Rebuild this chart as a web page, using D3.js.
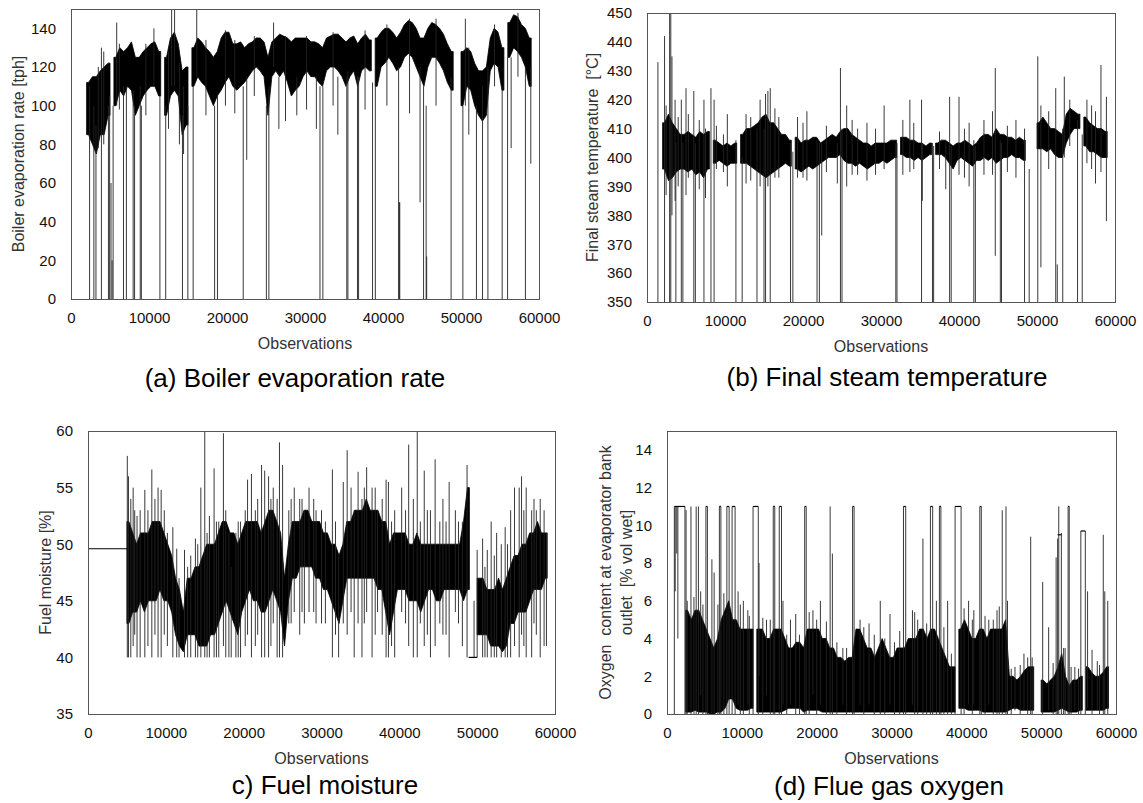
<!DOCTYPE html>
<html>
<head>
<meta charset="utf-8">
<script src="https://cdn.jsdelivr.net/npm/d3@7"></script>
<style>
  body { margin: 0; background: #fff; }
  text { font-family: "Liberation Sans", Arial, sans-serif; }
</style>
</head>
<body>
<svg id="chart" width="1143" height="803"></svg>
<script>
// every series is stored as 500-observation bins: lo/hi of the dense core (null = no data)
const BIN = 500;
const xTicks = [0, 10000, 20000, 30000, 40000, 50000, 60000];

// (a) boiler evaporation rate [tph]
const aLo = [null,null,null,null,85,80,75,85,85,95,null,100,108,105,110,108,95,100,105,108,
  110,110,105,null,95,105,108,105,85,90,null,110,115,112,110,105,100,105,108,112,
  115,110,108,110,112,115,118,120,118,115,95,115,118,115,118,112,105,108,110,115,
  118,115,115,112,110,118,120,120,118,115,110,115,118,110,118,120,118,null,110,120,
  122,125,122,118,120,125,127,125,120,115,110,120,125,125,122,118,112,108,null,null,
  100,110,108,100,95,92,95,118,122,120,108,null,125,130,128,125,120,110,null,null];
const aHi = [null,null,null,null,112,115,115,118,120,122,null,125,130,128,130,133,125,125,128,130,
  132,133,128,null,125,135,138,132,118,120,null,130,135,133,130,128,125,128,135,138,
  138,132,132,133,130,132,133,135,135,133,125,133,135,137,136,135,133,135,135,135,
  135,133,133,132,130,135,136,137,137,135,133,135,136,132,135,137,134,null,135,138,
  140,140,138,135,138,142,144,143,140,135,135,140,143,142,140,137,132,128,null,null,
  128,130,128,122,118,118,120,135,140,138,130,null,143,147,146,142,140,135,null,null];
// [observation, min, max] short excursions
const aSpikes = [[2380,0,110],[2930,0,100],[3200,0,90],[3900,0,130],[4200,80,128],[4800,0,100],
  [4950,0,105],[5130,0,60],[5270,0,20],[5400,0,100],[5860,100,143],[6730,0,110],[7100,0,110],
  [7970,0,108],[8150,0,100],[8880,0,110],[9020,0,100],[10630,110,140],[11400,0,105],[12140,0,100],
  [12900,110,150],[13280,110,150],[14290,0,95],[14430,75,110],[14980,0,100],[15660,0,110],
  [16120,115,150],[18410,0,100],[18780,0,105],[22080,0,110],[22530,72,115],[25050,0,100],
  [25370,0,110],[25970,120,143],[26650,88,115],[28950,95,115],[31460,88,115],[31920,0,110],
  [32290,0,110],[34210,85,115],[35360,0,115],[35500,0,118],[36730,0,115],[36870,0,115],
  [38660,0,112],[39020,0,110],[42000,0,120],[42090,0,50],[42150,0,50],[44750,50,120],[45200,0,110],
  [45530,0,100],[45600,0,22],[48730,0,115],[50240,0,100],[50560,100,145],[51980,0,100],
  [52760,0,110],[53450,0,120],[55280,0,110],[55970,0,125],[56430,78,125],[58260,0,120],[58950,70,120],
  [3500,78,120],[6200,98,132],[9600,95,132],[12500,88,128],[13900,80,122],[17300,95,134],
  [19800,100,139],[21000,96,134],[23500,105,136],[27500,92,136],[30200,98,136],[33600,100,138],
  [37700,98,139],[40500,100,142],[43400,96,145],[46800,100,145],[51000,85,130],[54300,110,142],[57300,115,148]];

// (b) final steam temperature [°C]
const bLo = [null,null,null,null,396,392,393,395,396,396,395,396,394,395,393,396,null,398,399,398,
  397,398,398,null,398,398,397,396,395,394,393,394,395,396,397,398,397,null,396,395,
  396,397,396,397,398,399,400,400,400,401,399,398,398,397,398,397,396,397,398,398,
  399,398,399,400,null,401,400,400,399,400,399,400,401,null,401,401,400,398,396,399,
  400,399,398,397,399,399,400,399,400,398,399,400,400,401,400,400,399,null,null,null,
  403,403,402,403,401,400,400,405,408,410,410,null,404,402,402,401,400,400,null,null];
const bHi = [null,null,null,null,412,415,412,410,408,408,409,408,407,409,408,409,null,406,405,404,
  405,404,405,null,408,410,410,411,412,414,415,412,412,410,408,408,406,null,407,405,
  406,406,407,407,405,406,407,408,407,409,410,410,408,407,406,405,405,404,405,405,
  405,405,406,406,null,407,407,406,406,405,405,404,405,null,405,406,406,405,404,405,
  405,406,405,404,405,407,408,408,407,410,408,408,407,407,406,407,406,null,null,null,
  412,414,412,410,410,409,408,415,417,416,415,null,414,412,411,410,410,409,null,null];
const bSpikes = [[1400,350,433],[2250,350,442],[2450,387,418],[2900,350,450],[3050,350,450],
  [3200,380,435],[3600,385,420],[3700,350,405],[4400,350,420],[4600,350,405],[5000,387,424],
  [5300,393,415],[6000,350,423],[6200,350,405],[7300,350,420],[7500,386,410],[8200,350,424],
  [8600,350,420],[8900,396,411],[10300,390,415],[11400,350,406],[12200,350,400],[12700,391,415],
  [14100,350,410],[14500,390,420],[15000,350,410],[15200,350,422],[15500,390,423],[15800,350,424],
  [16400,393,417],[18400,350,405],[18700,350,402],[19300,393,414],[20500,392,416],[21800,350,406],
  [22100,350,405],[22400,373,405],[24400,391,405],[24800,350,431],[25000,350,410],[25600,390,418],
  [27000,394,410],[28200,392,412],[30400,396,418],[31900,350,405],[32050,350,405],[32800,394,413],
  [33700,395,420],[35200,350,420],[35300,385,405],[36600,350,405],[36750,350,404],[38300,389,405],
  [38800,350,421],[39000,350,404],[40000,394,421],[41300,390,412],[41900,350,406],[42100,350,404],
  [44300,394,416],[44650,366,431],[45300,350,406],[45450,350,405],[47300,393,413],[48400,350,410],
  [50100,350,435],[50500,362,418],[51500,396,416],[52400,350,424],[52600,350,363],[53300,350,410],
  [53500,400,428],[55200,350,413],[55800,350,408],[56400,398,420],[57500,391,416],[58200,395,432],
  [58900,378,421],[4000,390,414],[6700,389,413],[9800,395,408],[13300,392,414],[16900,393,414],
  [20000,393,412],[23000,395,411],[26300,394,413],[29300,394,410],[34200,396,412],[37500,396,409],
  [40700,393,410],[43200,394,413],[46200,395,411],[49000,350,396],[54200,404,420],[57000,396,418]];

// (c) fuel moisture [%]
const cLo = [null,null,null,null,null,null,null,null,null,null,43,44,44,45,44,45,45,45,46,45,
  45,44,42,41,40.5,42,42,42,41,41,41,42,42,43,44,45,44,43,42,44,
  45,46,45,45,44,44,45,46,45,44,41,45,47,47,48,48,48,48,47,47,
  46,46,45,44,43,45,47,47,47,47,47,47,47,47,46,46,44,42,44,46,
  46,46,45,45,45,44,45,46,46,45,45,46,46,46,46,46,45,46,null,null,
  42,42,42,41,41,41,40.5,41,43,43,44,44,44,45,46,46,46,47,null,null];
const cHi = [null,null,null,null,null,null,null,null,null,null,52,51,50,51,51,51,52,52,52,51,
  50,49,47,46,44,47,47,48,48,49,50,50,50,51,52,52,51,51,50,51,
  52,52,52,52,51,52,53,53,52,51,47,50,52,52,52,53,53,52,52,52,
  51,51,50,50,49,50,52,52,53,53,53,54,53,53,53,52,52,50,51,51,
  51,51,50,50,51,50,50,50,50,50,50,50,50,50,50,50,52,55,null,null,
  47,47,46,46,46,47,46,47,48,49,49,50,50,51,51,52,51,51,null,null];
const cSpikes = [[5050,40,57.8],[5200,40,56],[5500,40,54],[5800,41,55],[6300,40,52.5],[6700,40,53],
  [7300,40,54.8],[8200,40,56.6],[8600,42,54],[9000,40,55],[9400,40,54.8],[10200,41,51],[10900,40,51.5],
  [11400,40,49.6],[12400,40,49.5],[13200,40,49],[13800,40,50.5],[14500,40,55],[15000,40,60],
  [15600,40,52.5],[16200,40,56.7],[16800,40,52],[17400,41,59.8],[17700,40,53],[18400,40,48],
  [19000,40,51],[19600,40,52],[20500,42,55.7],[21000,40,56.2],[21500,41,53],[22300,40,57],
  [22700,40,56.5],[23200,40,56],[23800,43,55],[24600,40,59],[25000,40,57],[25800,43,53],
  [26500,44,55],[27200,42,54],[27800,43,53],[28400,44,55],[29300,43,53],[30500,43,52],
  [31400,40,56.6],[32200,40,49],[32800,43,55.5],[33300,42,58.3],[34200,40,53],[34700,43,56.4],
  [35200,40,54],[35800,44,56.8],[36500,40,55],[37200,44,53],[38300,40,55.7],[38600,40,55.5],
  [39400,40,53],[40300,44,55],[41200,41,58.8],[41800,40,54],[42300,40,60],[43200,41,56.5],
  [44000,40,53],[44600,41,57.5],[45600,42,54],[46400,40,55.5],[47200,44,53],[48100,41,52],
  [48700,40,57],[50000,40,49.5],[50700,40,50.5],[51300,40,49.5],[51800,40,52],[52500,40,51],
  [53100,40,50],[53600,40,51.5],[54300,40,53],[54800,41,55],[55400,40,55],[55700,42,56],
  [56300,40,55],[57000,40,53],[57600,42,53],[58100,40,54],[58600,41,53],[58900,41,51],
  [6000,42,53],[7700,41,53],[9800,42,53],[11700,40,47],[12800,40,48],[14100,40,50],[15300,40,51],
  [16500,40,52],[18100,40,51],[19300,40,52],[20200,41,53],[21800,42,54],[23500,41,54],
  [24300,40,54],[26100,43,54],[27500,44,54],[29000,44,54],[30000,43,53],[31800,42,52],
  [33800,44,55],[35500,43,55],[36900,42,55],[37800,42,54],[39000,41,52],[40800,43,53],
  [42700,43,52],[43600,42,53],[45200,43,52],[46000,42,52],[47600,43,52],[49600,40,45],
  [51000,40,48],[52200,40,49],[53900,40,50],[56000,41,53],[57300,43,54]];
// [start, end, value] stretches where the signal sits flat
const cFlats = [[0,5050,49.6],[48900,50000,40]];

// (d) flue gas oxygen [% vol wet]
const dLo = [null,null,null,null,null,0.1,0.1,0.2,0.1,0.1,0.1,0,0,0.1,0.1,0.3,0.8,0.8,0.3,0.2,
  0.2,0.2,0.3,null,0.1,0.1,0.1,0.1,0.1,0.1,0.1,0.2,0.3,0.3,0.3,0.3,0.1,0.2,0.2,0.2,
  0.2,0.1,0.1,0.1,0.1,0.1,0.1,0.1,0.1,0.1,0.1,0.1,0.1,0.1,0.1,0.1,0.1,0.1,0.1,0.1,
  0.1,0.1,0.1,0.1,0.1,0.1,0.1,0.1,0.1,0.1,0.1,0.1,0.1,0.1,0.1,0.1,0.1,null,0.3,0.3,
  0.2,0.2,0.2,0.2,0.1,0.1,0.1,0.1,0.1,0.1,0.1,0.2,0.3,0.3,0.2,0.2,0.2,0.2,null,null,
  0.1,0.1,0.1,0.1,0.2,0.3,0.2,0.1,0.1,0.1,0.2,null,0.2,0.2,0.2,0.2,0.2,0.3,null,null];
const dHi = [null,null,null,null,null,5.5,5,5.5,5.5,5,4.5,4,3.5,4,5,5.5,6,5,5,4.5,
  4.5,4.5,4.5,null,4.5,4.5,4,4,4.5,4.5,4.5,4,3.5,3.5,3.8,3.8,3.5,4.5,4.5,4.5,
  4.5,4,4,3.5,3.5,3,3,2.8,3,3,4.5,4.5,4,3.5,3.5,3,3.5,4,3.5,3,
  3,3.5,3.5,3.5,4,4,4,4.5,4.5,4,4.5,4.5,4,3.5,3,2.5,2.5,null,4.5,5,
  4.5,4,4,4.5,4.5,4,4.5,4.5,4.5,4.5,5,2,2,1.8,2,2.3,2.5,2.5,null,null,
  1.8,1.6,1.8,2,2.5,3.2,2,1.5,1.8,1.8,2,null,2.5,2.2,2,2,2.2,2.5,null,null];
const dSpikes = [[980,0,11],[1100,6.5,11],[1300,8.5,11],[1450,4,11],[2400,0,11],[2550,0,10.8],
  [2700,0,6],[3200,0,11],[3900,0,11],[4200,0,11],[4500,1,6.5],[5200,0,11],[5400,0,11],[6000,0,8.2],
  [6300,0,7.5],[7000,0,11],[7200,0,11],[8000,0,11],[8300,0,11],[8700,0,11],[9100,0,11],[9500,0.5,6.5],
  [10200,0,6],[10800,0.5,5.5],[11500,0,11],[12200,0,11],[12300,2,8],[13300,1,5],[14200,0,11],
  [14400,0,11],[15000,0,11],[15300,0,11],[15500,0.5,6],[16500,0.5,5],[17200,0,5.3],[18400,0,11],
  [18600,0,11],[19500,1,5.5],[20500,0.5,6],[21800,0,11],[22100,0,8.5],[23500,0.5,3.5],[24800,0,11],
  [25000,0,11],[25800,0.5,5],[27000,0.5,4.8],[28500,0,6],[29800,0.5,5.3],[31600,0,11],[31900,0,11],
  [32800,0.5,5.5],[33500,0,5],[34200,0,9.3],[35200,0,11],[35500,0,11],[36000,0,6],[36400,0,11],
  [36600,0,11],[37500,0,6],[38500,0,11],[39300,0,11],[40300,0.5,6],[41000,0.5,5.5],[41800,0,11],
  [42000,0,11],[43000,0.5,5],[44100,0,5.5],[44800,0,10.8],[45300,0,11],[45500,0,6],[46500,0.2,2.5],
  [47700,0.2,3.2],[48600,0,9.4],[48800,0,3],[50200,0,7],[51000,0.2,4.6],[52000,0,8.3],[52200,0,9.3],
  [52350,0,11],[52700,0,9.6],[53200,0,3.5],[53600,0,11],[53750,0,11],[54500,0.2,2.5],[55300,0,9.7],
  [55900,0,9.7],[56200,0.3,6.5],[57500,0.2,2.8],[58300,0,9.5],[58500,0,6.5],[58900,0,6],
  [3600,0,6.2],[4800,0,5.8],[6800,0,5.8],[7600,0,6.4],[9800,0,5.8],[11000,0,5.2],[12800,0,5.1],
  [13800,0,5],[16000,0,4.2],[17700,0,4.2],[19000,0,5.4],[20000,0,5],[21300,0,4.9],[22700,0,3.8],
  [24000,0,3.5],[26300,0,4.6],[27700,0,4.2],[29100,0,4],[30400,0,3.8],[31100,0,4.4],[33100,0,5.4],
  [34700,0,4.8],[37000,0,4.6],[38000,0,3.2],[39700,0,5.6],[40800,0,5],[42500,0,5.2],[43600,0,5],
  [44400,0,5.7],[46000,0,2.4],[47200,0,2.6],[48200,0,3],[51600,0,2.7],[53000,0,3.5],[54000,0,2.5],
  [55000,0,2.4],[56800,0,3.4],[57800,0,2.6]];
const dFlats = [[1000,2400,11],[5200,5400,11],[7000,7200,11],[8000,8300,11],[8700,9100,11],
  [11500,12200,11],[14200,14400,11],[15000,15300,11],[18400,18600,11],[24800,25000,11],
  [31600,31900,11],[35200,35500,11],[36400,36600,11],[38500,39300,11],[41800,42000,11],
  [52200,52700,9.5],[53600,53750,11],[55300,55900,9.7]];

const aTicks = d3.range(0, 141, 20);
const bTicks = d3.range(350, 451, 10);
const cTicks = d3.range(35, 61, 5);
const dTicks = d3.range(0, 15, 2);

const panels = [
  { id: 'a', lo: aLo, hi: aHi, spikes: aSpikes, flats: [], domain: [0, 150], ticks: aTicks,
    x0: 71, x1: 539, y0: 9, y1: 299, title: ['Boiler evaporation rate [tph]'], titleX: [18],
    caption: '(a) Boiler evaporation rate', capX: 295, capY: 378 },
  { id: 'b', lo: bLo, hi: bHi, spikes: bSpikes, flats: [], domain: [350, 450], ticks: bTicks,
    x0: 647, x1: 1115, y0: 13, y1: 302, title: ['Final steam temperature  [°C]'], titleX: [592],
    caption: '(b) Final steam temperature', capX: 887, capY: 377 },
  { id: 'c', lo: cLo, hi: cHi, spikes: cSpikes, flats: cFlats, domain: [35, 60], ticks: cTicks,
    x0: 88, x1: 555, y0: 431, y1: 714, title: ['Fuel moisture [%]'], titleX: [45],
    caption: 'c) Fuel moisture', capX: 325, capY: 785 },
  { id: 'd', lo: dLo, hi: dHi, spikes: dSpikes, flats: dFlats, domain: [0, 15], ticks: dTicks,
    x0: 667, x1: 1116, y0: 431, y1: 714,
    title: ['Oxygen  content at evaporator bank', 'outlet  [% vol wet]'], titleX: [605, 626],
    caption: '(d) Flue gas oxygen', capX: 889, capY: 786 }
];

const svg = d3.select('#chart');
const defs = svg.append('defs');

// turn the bins into area points: bin centres, plus the outer edge of each run of bins
function corePoints(lo, hi) {
  const pts = [];
  lo.forEach((v, i) => {
    if (v == null) return;
    const prev = i > 0 ? lo[i - 1] : null;
    const next = i < lo.length - 1 ? lo[i + 1] : null;
    if (prev == null) {
      if (pts.length) pts.push(null);
      pts.push({ o: i * BIN, lo: v, hi: hi[i] });
    }
    pts.push({ o: i * BIN + BIN / 2, lo: v, hi: hi[i] });
    if (next == null) pts.push({ o: (i + 1) * BIN, lo: v, hi: hi[i] });
  });
  return pts;
}

panels.forEach(p => {
  const x = d3.scaleLinear().domain([0, 60000]).range([p.x0, p.x1]);
  const y = d3.scaleLinear().domain(p.domain).range([p.y1, p.y0]);
  const g = svg.append('g').attr('class', 'panel-' + p.id);

  defs.append('clipPath').attr('id', 'clip-' + p.id)
    .append('rect')
      .attr('x', p.x0).attr('y', p.y0)
      .attr('width', p.x1 - p.x0).attr('height', p.y1 - p.y0);

  const plot = g.append('g').attr('clip-path', `url(#clip-${p.id})`);

  const area = d3.area()
    .defined(d => d != null)
    .x(d => x(d.o))
    .y0(d => y(d.lo))
    .y1(d => y(d.hi));

  plot.append('path')
    .datum(corePoints(p.lo, p.hi))
    .attr('d', area)
    .attr('fill', '#000')
    .attr('stroke', '#000')
    .attr('stroke-width', 0.8);

  plot.selectAll('.spike')
    .data(p.spikes)
    .join('line')
      .attr('class', 'spike')
      .attr('x1', d => x(d[0])).attr('x2', d => x(d[0]))
      .attr('y1', d => y(d[1])).attr('y2', d => y(d[2]))
      .attr('stroke', '#222')
      .attr('stroke-width', 0.9);

  plot.selectAll('.flat')
    .data(p.flats)
    .join('line')
      .attr('class', 'flat')
      .attr('x1', d => x(d[0])).attr('x2', d => x(d[1]))
      .attr('y1', d => y(d[2])).attr('y2', d => y(d[2]))
      .attr('stroke', '#000')
      .attr('stroke-width', 1.2);

  // plot frame
  g.append('rect')
    .attr('x', p.x0 + 0.5).attr('y', p.y0 + 0.5)
    .attr('width', p.x1 - p.x0).attr('height', p.y1 - p.y0)
    .attr('fill', 'none')
    .attr('stroke', '#555')
    .attr('stroke-width', 1);

  const xAxis = g.append('g')
    .attr('transform', `translate(0,${p.y1})`)
    .call(d3.axisBottom(x).tickValues(xTicks).tickSize(0).tickPadding(13).tickFormat(d3.format('d')));
  const yAxis = g.append('g')
    .attr('transform', `translate(${p.x0},0)`)
    .call(d3.axisLeft(y).tickValues(p.ticks).tickSize(0).tickPadding(15).tickFormat(d3.format('d')));
  [xAxis, yAxis].forEach(ax => {
    ax.select('.domain').remove();
    ax.attr('font-family', '"Liberation Sans", Arial, sans-serif').attr('font-size', 15);
    ax.selectAll('text').attr('fill', '#111');
  });

  g.append('text')
    .attr('x', (p.x0 + p.x1) / 2)
    .attr('y', p.y1 + 44)
    .attr('dy', '0.35em')
    .attr('text-anchor', 'middle')
    .attr('font-size', 16)
    .attr('fill', '#333')
    .text('Observations');

  p.title.forEach((t, k) => {
    const tx = p.titleX[k], ty = (p.y0 + p.y1) / 2;
    g.append('text')
      .attr('transform', `translate(${tx},${ty}) rotate(-90)`)
      .attr('dy', '0.35em')
      .attr('text-anchor', 'middle')
      .attr('font-size', 16)
      .attr('fill', '#333')
      .style('white-space', 'pre')
      .text(t);
  });

  g.append('text')
    .attr('x', p.capX)
    .attr('y', p.capY)
    .attr('dy', '0.35em')
    .attr('text-anchor', 'middle')
    .attr('font-size', 26)
    .attr('fill', '#000')
    .text(p.caption);
});
</script>
</body>
</html>
